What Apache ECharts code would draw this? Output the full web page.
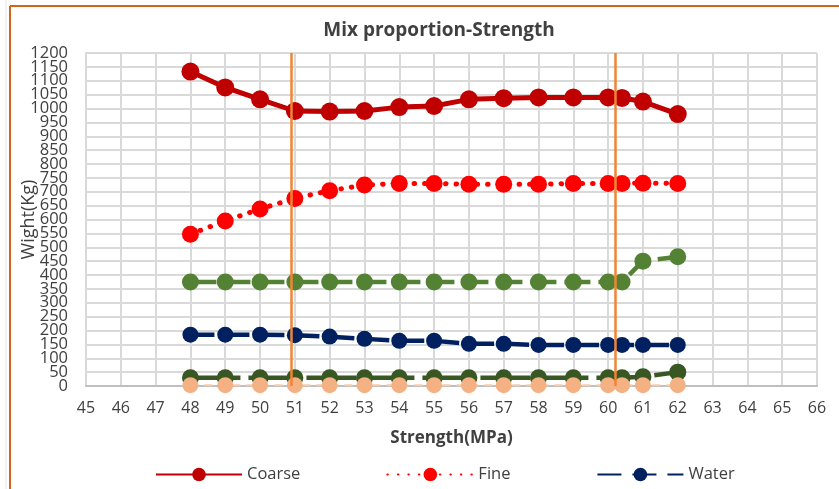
<!DOCTYPE html>
<html>
<head>
<meta charset="utf-8">
<script src="https://cdn.jsdelivr.net/npm/echarts@6/dist/echarts.min.js"></script>
<style>
html,body{margin:0;padding:0;background:#fff;}
#chart{width:839px;height:489px;}
</style>
</head>
<body>
<div id="chart"></div>
<script>
const strength = [48,49,50,51,52,53,54,55,56,57,58,59,60,60.4,61,62];
const coarse = [1133,1076,1033,991,989,991,1005,1009,1033,1037,1040,1040,1040,1038,1025,980];
const fine = [547,595,638,676,704,724,730,730,727,727,727,730,730,730,731,730];
const water = [185,185,185,183,178,170,163,163,152,152,148,148,148,148,148,148];
const cement = [375,375,375,375,375,375,375,375,375,375,375,375,375,375,450,466];
const additive = [30,30,30,30,30,30,30,30,30,30,30,30,30,30,33,50];
const admixture = [3,3,3,3,3,3,3,3,3,3,3,3,3,3,3,3];
const markerLines = [50.9, 60.2];
const yMin = 0, yMax = 1200, yStep = 50;

function pairs(vals){ return strength.map((x,i)=>[x, vals[i]]); }

const chart = echarts.init(document.getElementById('chart'), null, {renderer:'canvas'});
const txt = '#404040';
const yLabelStyle = {fontFamily:'Open Sans', fontSize:16.5, color:txt, margin:18, lineHeight:11,
  hideOverlap:false, formatter:v=>String(v)};
const option = {
  animation:false,
  backgroundColor:'#ffffff',
  title:{text:'Mix proportion-Strength', left:434, top:16, textAlign:'center',
    textStyle:{fontFamily:'Open Sans', fontWeight:'bold', fontSize:19, color:txt}},
  legend:{data:['Coarse','Fine','Water'], left:150, top:461, itemWidth:86, itemHeight:17, itemGap:86,
    textStyle:{fontFamily:'Open Sans', fontSize:16.5, color:txt}},
  grid:{left:86, right:22, top:53, bottom:103, containLabel:false, outerBoundsMode:'none'},
  xAxis:{type:'value', min:45, max:66, interval:1,
    name:'Strength(MPa)', nameLocation:'middle', nameGap:44,
    nameTextStyle:{fontFamily:'Open Sans', fontWeight:'bold', fontSize:17, color:txt},
    axisLine:{show:true, lineStyle:{color:'#BFBFBF', width:2}},
    axisTick:{show:false},
    axisLabel:{fontFamily:'Open Sans', fontSize:16, color:txt, margin:14, showMinLabel:true, showMaxLabel:true},
    splitLine:{show:true, lineStyle:{color:'#D9D9D9', width:2}}},
  yAxis:[
    {type:'value', min:yMin, max:yMax, interval:yStep, position:'left',
      name:'Wight(Kg)', nameLocation:'middle', nameGap:48, nameMoveOverlap:false,
      nameTextStyle:{fontFamily:'Open Sans', fontSize:18, color:txt},
      axisLine:{show:true, lineStyle:{color:'#D9D9D9', width:2}},
      axisTick:{show:false},
      axisLabel:Object.assign({showMinLabel:false, showMaxLabel:false}, yLabelStyle),
      splitLine:{show:true, lineStyle:{color:'#D9D9D9', width:2}}},
    {type:'value', min:yMin, max:yMax, interval:yMax - yMin, position:'left', offset:0,
      axisLine:{show:false}, axisTick:{show:false}, splitLine:{show:false},
      axisLabel:Object.assign({showMinLabel:true, showMaxLabel:true}, yLabelStyle)}
  ],
  series:[
    {name:'Coarse', type:'line', data:pairs(coarse), symbol:'circle', symbolSize:18,
      itemStyle:{color:'#C00000'}, lineStyle:{color:'#C00000', width:5},
      markLine:{silent:true, symbol:['none','none'], label:{show:false},
        lineStyle:{color:'#F08534', width:2.5, type:'solid'},
        data:markerLines.map(v=>({xAxis:v}))}},
    {name:'Fine', type:'line', data:pairs(fine), symbol:'circle', symbolSize:17,
      itemStyle:{color:'#FF0000'}, lineStyle:{color:'#FF0000', width:5, type:[0.5,10], cap:'round'}},
    {name:'Water', type:'line', data:pairs(water), symbol:'circle', symbolSize:16,
      itemStyle:{color:'#002060'}, lineStyle:{color:'#002060', width:4.5, type:[24,11]}},
    {name:'Cement', type:'line', data:pairs(cement), symbol:'circle', symbolSize:17,
      itemStyle:{color:'#548235'}, lineStyle:{color:'#548235', width:4.5, type:[26,8]}},
    {name:'Additive', type:'line', data:pairs(additive), symbol:'circle', symbolSize:17,
      itemStyle:{color:'#385723'}, lineStyle:{color:'#385723', width:4.5, type:[50,8]}},
    {name:'Admixture', type:'line', data:pairs(admixture), symbol:'circle', symbolSize:16,
      itemStyle:{color:'#F4B183'}, lineStyle:{color:'#F8CBAD', width:2, type:[8,6]}}
  ],
  graphic:[
    {type:'line', shape:{x1:6, y1:0, x2:6, y2:489}, style:{stroke:'#E6E6E6', lineWidth:1}},
    {type:'line', shape:{x1:10, y1:6, x2:839, y2:6}, style:{stroke:'#D0651B', lineWidth:2}},
    {type:'line', shape:{x1:10, y1:6, x2:10, y2:489}, style:{stroke:'#D0651B', lineWidth:2}}
  ]
};
chart.setOption(option);
</script>
</body>
</html>
